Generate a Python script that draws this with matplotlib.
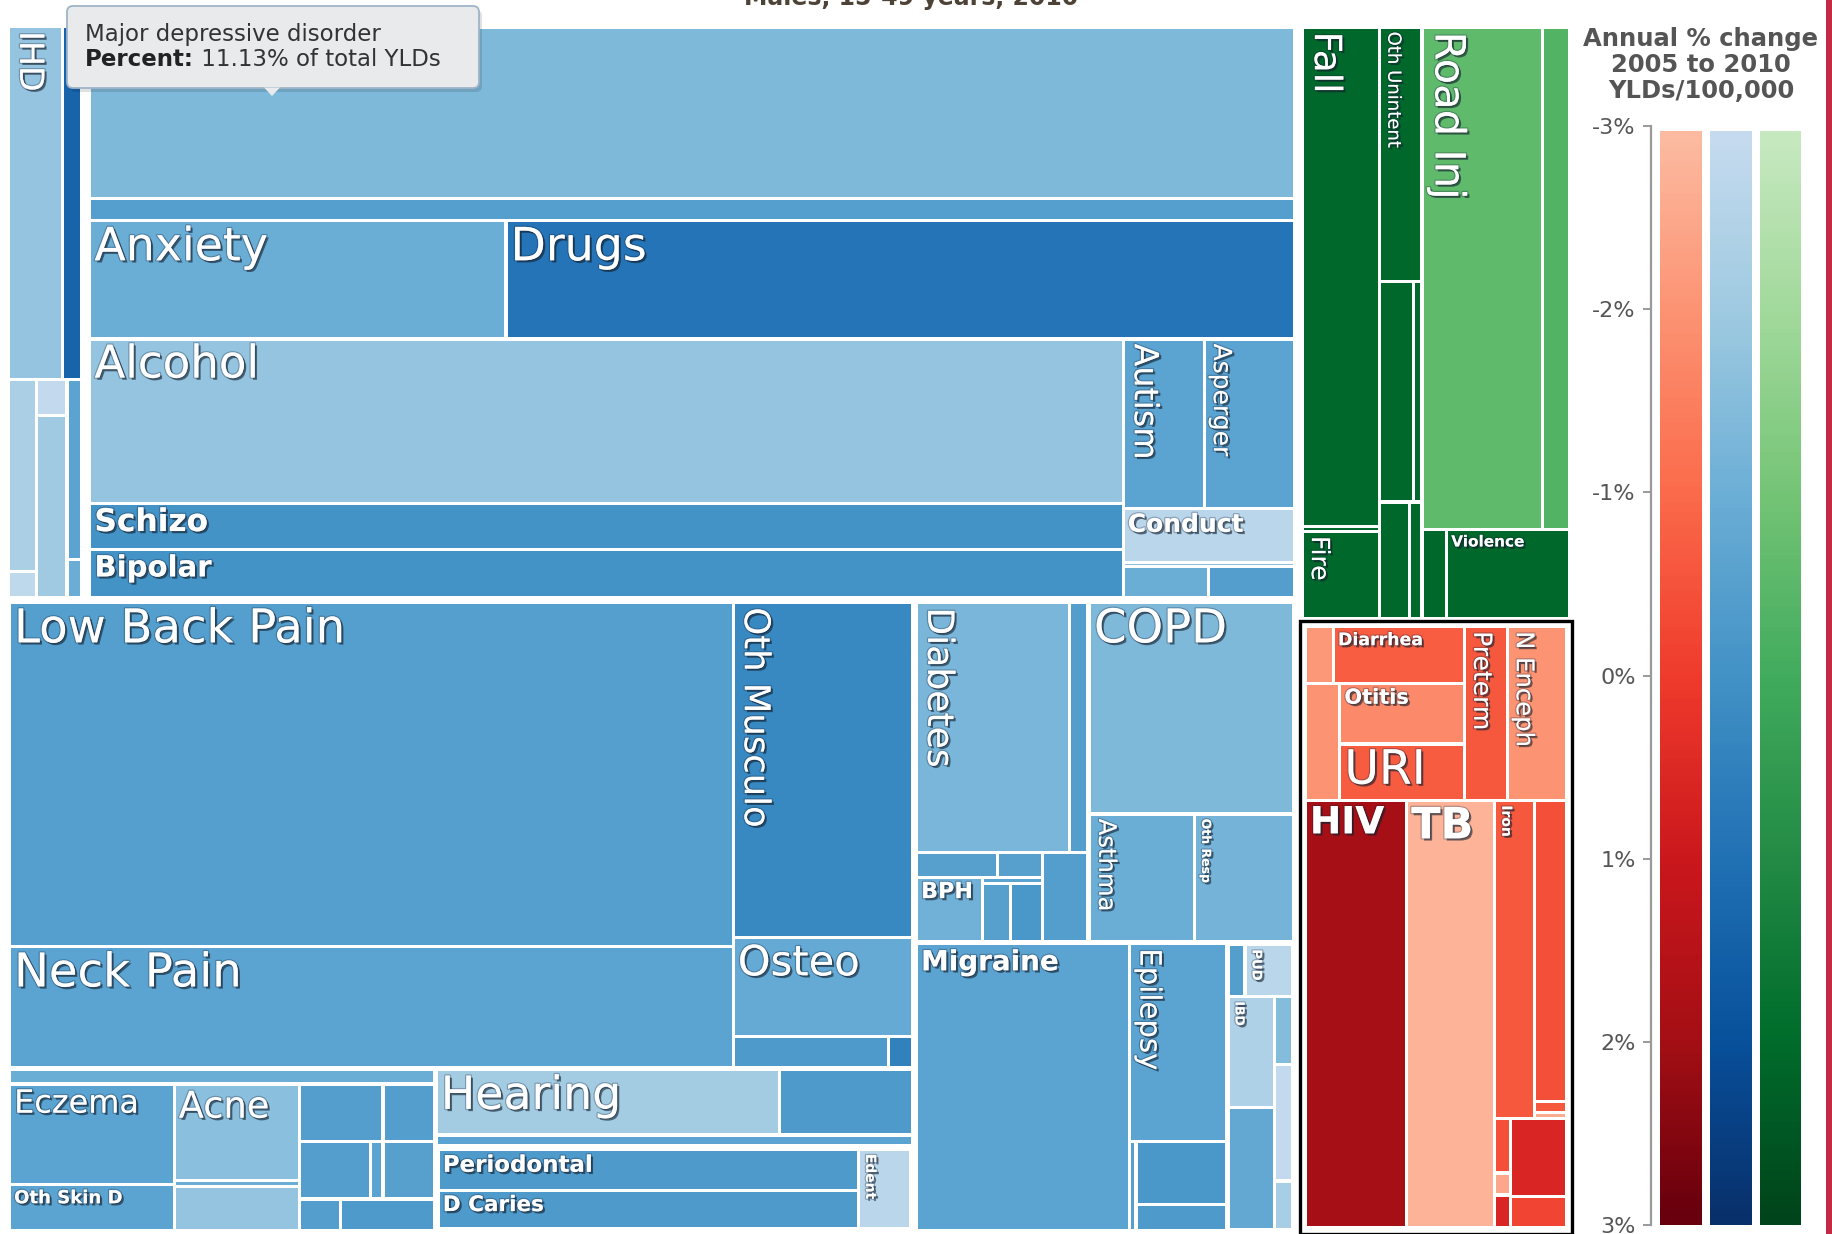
import matplotlib
matplotlib.use("Agg")
import matplotlib.pyplot as plt
import matplotlib.patheffects as pe
from matplotlib.patches import Rectangle, FancyBboxPatch, Polygon
from matplotlib.colors import ListedColormap, Normalize
import numpy as np

# ---------------------------------------------------------------------------
# Data: (key, label, share of total YLDs in %, annual % change 2005-2010)
# ---------------------------------------------------------------------------
cardio = [
    ("ihd", "IHD", 1.04, -1.8), ("hhd", "", 0.37, 1.4),
    ("cv1", "", 0.29, -2.3), ("cv2", "", 0.04, -2.8),
    ("cv3", "", 0.06, -2.9), ("cv4", "", 0.31, -2.0),
    ("cv5", "", 0.14, -0.6), ("cv6", "", 0.03, -1.0),
]
mental = [
    ("mdd", "", 11.13, -1.4), ("mental_strip", "", 1.43, -0.45),
    ("anxiety", "Anxiety", 2.65, -1.0), ("drugs", "Drugs", 5.02, 0.9),
    ("alcohol", "Alcohol", 9.15, -1.8), ("schizo", "Schizo", 2.58, -0.05),
    ("bipolar", "Bipolar", 2.64, -0.05), ("autism", "Autism", 0.74, -0.6),
    ("asperger", "Asperger", 0.82, -0.6), ("conduct", "Conduct", 0.50, -2.7),
    ("conduct_thin", "", 0.04, -1.6), ("mental_s1", "", 0.14, -1.0),
    ("mental_s2", "", 0.14, -0.4),
]
musculo = [
    ("lbp", "Low Back Pain", 13.39, -0.45), ("neck", "Neck Pain", 4.69, -0.6),
    ("oth_musc", "Oth Musculo", 3.23, 0.3), ("osteo", "Osteo", 0.95, -0.85),
    ("musc_s1", "", 0.26, -0.3), ("musc_s2", "", 0.04, 0.5),
]
skin = [
    ("skin_strip", "", 0.34, -1.0), ("eczema", "Eczema", 0.90, -0.6),
    ("oth_skin", "Oth Skin D", 0.41, -0.6), ("acne", "Acne", 0.66, -1.6),
    ("acne_thin", "", 0.04, -1.0), ("acne_below", "", 0.30, -1.8),
    ("skin_a", "", 0.26, -0.4), ("skin_b", "", 0.16, -0.4),
    ("skin_c", "", 0.22, -0.4), ("skin_d", "", 0.04, -0.6),
    ("skin_e", "", 0.16, -0.5), ("skin_f", "", 0.07, -0.4),
    ("skin_g", "", 0.16, -0.3),
]
sense_oral = [
    ("hearing", "Hearing", 1.24, -2.1), ("sense_b", "", 0.48, -0.3),
    ("sense_strip", "", 0.27, -0.6), ("periodontal", "Periodontal", 1.01, -0.3),
    ("caries", "D Caries", 0.93, -0.3), ("edent", "Edent", 0.24, -2.7),
]
diab_uro = [
    ("diabetes", "Diabetes", 2.08, -1.3), ("diab_thin", "", 0.25, -0.4),
    ("uro_a", "", 0.11, -0.5), ("uro_b", "", 0.06, -0.5),
    ("bph", "BPH", 0.23, -1.1), ("uro_thin", "", 0.02, -0.6),
    ("uro_c", "", 0.09, -0.5), ("uro_d", "", 0.10, -0.2),
    ("uro_e", "", 0.22, -0.4),
]
resp = [
    ("copd", "COPD", 2.35, -1.4), ("asthma", "Asthma", 0.73, -1.0),
    ("oth_resp", "Oth Resp", 0.69, -1.2),
]
neuro = [
    ("migraine", "Migraine", 3.32, -0.6), ("epilepsy", "Epilepsy", 1.04, -0.6),
    ("neuro_thin", "", 0.03, -0.5), ("neuro_a", "", 0.31, -0.2),
    ("neuro_b", "", 0.13, -0.3),
]
digestive = [
    ("dig_a", "", 0.05, -0.4), ("pud", "PUD", 0.14, -2.7),
    ("ibd", "IBD", 0.29, -2.4), ("dig_b", "", 0.32, -0.8),
    ("dig_c", "", 0.07, -1.5), ("dig_d", "", 0.12, -2.9),
    ("dig_e", "", 0.05, -2.2),
]
injuries = [
    ("fall", "Fall", 2.12, 2.1), ("fall_thin", "", 0.02, 2.1),
    ("fire", "Fire", 0.37, 2.1), ("oth_unint", "Oth Unintent", 0.59, 2.1),
    ("inj_a", "", 0.41, 2.1), ("inj_b", "", 0.10, 2.1),
    ("inj_c", "", 0.19, 2.1), ("inj_d", "", 0.08, 2.1),
    ("road", "Road Inj", 3.33, -0.6), ("road_b", "", 0.75, -0.35),
    ("inj_e", "", 0.12, 2.1), ("violence", "Violence", 0.60, 2.1),
]
communicable = [
    ("com_a", "", 0.09, -2.1), ("diarrhea", "Diarrhea", 0.42, -0.75),
    ("com_b", "", 0.23, -2.0), ("otitis", "Otitis", 0.43, -1.8),
    ("uri", "URI", 0.40, -0.7), ("preterm", "Preterm", 0.42, -0.6),
    ("nenceph", "N Enceph", 0.59, -2.0), ("hiv", "HIV", 2.45, 1.95),
    ("tb", "TB", 2.13, -2.8), ("iron", "Iron", 0.72, -0.6),
    ("com_c", "", 0.55, -0.4), ("com_d", "", 0.02, -0.6),
    ("com_e", "", 0.01, -2.6), ("com_f", "", 0.05, -0.4),
    ("com_g", "", 0.02, -2.5), ("com_h", "", 0.03, 0.6),
    ("com_i", "", 0.25, 0.6), ("com_j", "", 0.10, -0.2),
]

tick_values = [-3, -2, -1, 0, 1, 2, 3]
tick_labels = ["-3%", "-2%", "-1%", "0%", "1%", "2%", "3%"]
legend_title = ["Annual % change", "2005 to 2010", "YLDs/100,000"]
chart_title = "Males, 15-49 years, 2010"
tooltip_cause = "Major depressive disorder"
tooltip_key = "mdd"

# ---------------------------------------------------------------------------
all_groups = [cardio, mental, musculo, skin, sense_oral, diab_uro, resp,
              neuro, digestive, injuries, communicable]
share = {k: v for g in all_groups for (k, _, v, _) in g}
change = {k: c for g in all_groups for (k, _, _, c) in g}
label = {k: l for g in all_groups for (k, l, _, _) in g}


def trunc(name):
    base = plt.get_cmap(name)
    return ListedColormap(base(np.linspace(0.25, 1.0, 256)))


CMAPS = {"Reds": trunc("Reds"), "Blues": trunc("Blues"), "Greens": trunc("Greens")}
norm = Normalize(-3, 3)

# Slice-and-dice hierarchy: 'v' = children side by side, 'h' = stacked
cardio_node = ("h", [("v", ["ihd", "hhd"]),
                     ("v", [("h", ["cv1", "cv2"]), ("h", ["cv3", "cv4"]),
                            ("h", ["cv5", "cv6"])])], {"pad": 1})
mental_node = ("h", ["mdd", "mental_strip", ("v", ["anxiety", "drugs"]),
                     ("v", [("h", ["alcohol", "schizo", "bipolar"]),
                            ("h", [("v", ["autism", "asperger"]),
                                   ("h", ["conduct", "conduct_thin",
                                          ("v", ["mental_s1", "mental_s2"])])])])],
               {"pad": 1.5, "padl": 6})
musc_node = ("v", [("h", ["lbp", "neck"]),
                   ("h", ["oth_musc", "osteo", ("v", ["musc_s1", "musc_s2"])])],
             {"pad": 1})
skin_node = ("h", ["skin_strip",
                   ("v", [("h", ["eczema", "oth_skin"]),
                          ("h", ["acne", "acne_thin", "acne_below"]),
                          ("h", [("v", ["skin_a", "skin_b"]),
                                 ("v", ["skin_c", "skin_d", "skin_e"]),
                                 ("v", ["skin_f", "skin_g"])])])], {"pad": 1})
sense_node = ("h", [("h", [("v", ["hearing", "sense_b"]), "sense_strip"], {"pad": 1}),
                    ("v", [("h", ["periodontal", "caries"]), "edent"], {"pad": 3})])
diab_node = ("h", [("v", ["diabetes", "diab_thin"]),
                   ("v", [("h", [("v", ["uro_a", "uro_b"]),
                                 ("v", ["bph", ("h", ["uro_thin", ("v", ["uro_c", "uro_d"])])])]),
                          "uro_e"])], {"pad": 1})
resp_node = ("h", ["copd", ("v", ["asthma", "oth_resp"])], {"pad": 1})
neuro_dig_node = ("v", ["migraine",
                        ("h", ["epilepsy", ("v", ["neuro_thin", ("h", ["neuro_a", "neuro_b"])])]),
                        ("h", [("v", ["dig_a", "pud"]),
                               ("v", [("h", ["ibd", "dig_b"]),
                                      ("h", ["dig_c", "dig_d", "dig_e"])])], {"pad": 1})],
                  {"pad": 1})
injury_node = ("v", [("h", ["fall", "fall_thin", "fire"]),
                     ("h", ["oth_unint", ("v", ["inj_a", "inj_b"]), ("v", ["inj_c", "inj_d"])]),
                     ("h", [("v", ["road", "road_b"]), ("v", ["inj_e", "violence"])])],
               {"pad": 2.5, "cmap": "Greens"})
comm_node = ("h", [("v", [("h", [("v", ["com_a", "diarrhea"]),
                                 ("v", ["com_b", ("h", ["otitis", "uri"])])]),
                          "preterm", "nenceph"]),
                   ("v", ["hiv", "tb",
                          ("h", [("v", ["iron", ("h", ["com_c", "com_d", "com_e"])]),
                                 ("v", [("h", ["com_f", "com_g", "com_h"]),
                                        ("h", ["com_i", "com_j"])])])])],
             {"pad": 5.5, "cmap": "Reds", "frame": True})

tree = ("v", [
    ("h", [("v", [cardio_node, mental_node], {"pad": 1}),
           ("v", [("h", [musc_node, ("v", [skin_node, sense_node])], {"pad": 1}),
                  ("h", [("v", [diab_node, resp_node]), neuro_dig_node], {"pad": 1})],
            {"pad": 1})],
     {"pad": 1.5, "cmap": "Blues"}),
    ("h", [injury_node, comm_node], {"pad": 1.5}),
])


def total(node):
    if isinstance(node, str):
        return share[node]
    return sum(total(k) for k in node[1])


leaves, frames = [], []


def layout(node, x0, y0, x1, y1, cmap):
    if isinstance(node, str):
        leaves.append((node, x0, y0, x1, y1, cmap))
        return
    opts = node[2] if len(node) > 2 else {}
    cmap = opts.get("cmap", cmap)
    if opts.get("frame"):
        frames.append((x0, y0, x1, y1))
    p = opts.get("pad", 0)
    x0, y0, x1, y1 = x0 + p + opts.get("padl", 0), y0 + p, x1 - p, y1 - p
    kids = node[1]
    sizes = [total(k) for k in kids]
    s = sum(sizes)
    pos = x0 if node[0] == "v" else y0
    for k, v in zip(kids, sizes):
        if node[0] == "v":
            w = (x1 - x0) * v / s
            layout(k, pos, y0, pos + w, y1, cmap)
        else:
            w = (y1 - y0) * v / s
            layout(k, x0, pos, x1, pos + w, cmap)
        pos += w


W, H = 1833, 1234
fig = plt.figure(figsize=(W / 100, H / 100), dpi=100)
ax = fig.add_axes([0, 0, 1, 1])
ax.set_xlim(0, W)
ax.set_ylim(H, 0)
ax.axis("off")

layout(tree, 5, 23, 1574, 1235, "Blues")

label_style = {
    "ihd": (24, -90, "normal"),
    "anxiety": (33, 0, "normal"), "drugs": (33, 0, "normal"),
    "alcohol": (32.5, 0, "normal"), "schizo": (22.5, 0, "bold"),
    "bipolar": (21, 0, "bold"), "autism": (24, -90, "normal"),
    "asperger": (18, -90, "normal"), "conduct": (18, 0, "bold"),
    "lbp": (33.5, 0, "normal"), "neck": (33.5, 0, "normal"),
    "oth_musc": (25.5, -90, "normal"), "osteo": (30, 0, "normal"),
    "diabetes": (26, -90, "normal"), "copd": (33.5, 0, "normal"),
    "asthma": (17.5, -90, "normal"), "oth_resp": (9, -90, "bold"),
    "bph": (16, 0, "bold"), "migraine": (20, 0, "bold"),
    "epilepsy": (21, -90, "normal"), "pud": (9.5, -90, "bold"),
    "ibd": (9, -90, "bold"), "eczema": (23, 0, "normal"),
    "acne": (26.5, 0, "normal"), "oth_skin": (13, 0, "bold"),
    "hearing": (33, 0, "normal"), "periodontal": (16.5, 0, "bold"),
    "caries": (15.5, 0, "bold"), "edent": (10, -90, "bold"),
    "fall": (27, -90, "normal"), "oth_unint": (13, -90, "normal"),
    "road": (30, -90, "normal"), "fire": (18, -90, "normal"),
    "violence": (11, 0, "bold"), "diarrhea": (12.5, 0, "bold"),
    "otitis": (15, 0, "bold"), "uri": (34, 0, "normal"),
    "preterm": (18, -90, "normal"), "nenceph": (17.5, -90, "normal"),
    "hiv": (27, 0, "bold"), "tb": (31, 0, "bold"), "iron": (10, -90, "bold"),
}

shadow = [pe.SimplePatchShadow(offset=(1.6, -1.6), shadow_rgbFace="#14202c", alpha=0.6),
          pe.Stroke(linewidth=1.8, foreground=(0.05, 0.1, 0.2, 0.28)),
          pe.Normal()]

inset = 1.6
for key, x0, y0, x1, y1, cm in leaves:
    color = CMAPS[cm](norm(change[key]))
    ax.add_patch(Rectangle((x0 + inset, y0 + inset), x1 - x0 - 2 * inset,
                           y1 - y0 - 2 * inset, facecolor=color, edgecolor="none", zorder=2))
    if label[key]:
        size, rot, weight = label_style[key]
        ax.text(x0 + inset + 3, y0 + inset + 3, label[key], fontsize=size,
                rotation=rot, ha="left", va="top", color="white",
                fontweight=weight, family="DejaVu Sans", zorder=4,
                path_effects=shadow)

for x0, y0, x1, y1 in frames:
    ax.add_patch(Rectangle((x0, y0), x1 - x0, y1 - y0, facecolor="none",
                           edgecolor="black", linewidth=2.4, zorder=5))

# chart title (partly outside the top edge)
ax.text(911, 5, chart_title, ha="center", va="baseline", fontsize=17,
        fontweight="bold", color="#4d4236", zorder=6)

# right edge band
ax.add_patch(Rectangle((1826, 0), 8, H, facecolor="#c42a45", edgecolor="none", zorder=6))

# tooltip
tx0, ty0, tx1, ty1 = 67, 6, 479, 88
ax.add_patch(FancyBboxPatch((tx0 + 3, ty0 + 4), tx1 - tx0, ty1 - ty0,
                            boxstyle="round,pad=0,rounding_size=6",
                            facecolor=(0, 0, 0, 0.12), edgecolor="none", zorder=7))
ax.add_patch(FancyBboxPatch((tx0, ty0), tx1 - tx0, ty1 - ty0,
                            boxstyle="round,pad=0,rounding_size=6",
                            facecolor="#e8eaec", edgecolor="#9fb4c8", linewidth=1.3, zorder=8))
ax.add_patch(Polygon([[264, ty1 - 0.5], [280, ty1 - 0.5], [272, ty1 + 8]], closed=True,
                     facecolor="#e8eaec", edgecolor="none", zorder=9))
ax.text(85, 34, tooltip_cause, fontsize=16.5, color="#333333", va="center", ha="left", zorder=10)
t_bold = ax.text(85, 60, "Percent:", fontsize=16.5, fontweight="bold", color="#222222",
                 va="center", ha="left", zorder=10)
fig.canvas.draw()
bb = t_bold.get_window_extent(renderer=fig.canvas.get_renderer())
x_after = ax.transData.inverted().transform((bb.x1, bb.y0))[0]
ax.text(x_after, 60, f" {share[tooltip_key]:.2f}% of total YLDs", fontsize=16.5,
        color="#333333", va="center", ha="left", zorder=10)

# legend: colour scale
for i, line in enumerate(legend_title):
    ax.text(1701, 39 + i * 26, line, ha="center", va="center", fontsize=17.5,
            fontweight="bold", color="#555555", zorder=6)

lax = fig.add_axes([1651 / W, 1 - 1225 / H, (1810 - 1651) / W, (1225 - 126) / H])
grad = np.linspace(-3, 3, 256).reshape(-1, 1)
for (bx0, bx1), cm in zip([(9, 51), (59, 101), (109, 150)], ["Reds", "Blues", "Greens"]):
    lax.imshow(grad, extent=(bx0, bx1, 3, -2.97), cmap=CMAPS[cm], norm=norm,
               aspect="auto", interpolation="bilinear")
lax.set_xlim(0, 159)
lax.set_ylim(3, -3)
for s in ["top", "right", "bottom"]:
    lax.spines[s].set_visible(False)
lax.spines["left"].set_color("#9a9a9a")
lax.spines["left"].set_linewidth(1.6)
lax.set_xticks([])
lax.set_yticks(tick_values)
lax.set_yticklabels(tick_labels)
lax.tick_params(axis="y", direction="out", length=6, width=1.4, color="#9a9a9a",
                labelsize=16, labelcolor="#555555", pad=5)
lax.patch.set_alpha(0)

fig.savefig("out.png", dpi=100)
